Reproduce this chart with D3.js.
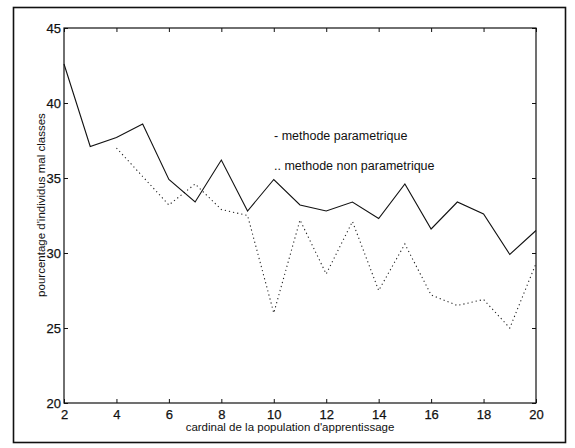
<!DOCTYPE html>
<html>
<head>
<meta charset="utf-8">
<script src="https://cdn.jsdelivr.net/npm/d3@7"></script>
<style>
  body { margin: 0; background: #fff; }
  svg text { font-family: "Liberation Sans", Arial, Helvetica, sans-serif; fill: #111; }
</style>
</head>
<body>
<svg id="chart"></svg>
<script>
'use strict';

// cardinal de la population d'apprentissage
var cardinals = [2, 3, 4, 5, 6, 7, 8, 9, 10, 11, 12, 13, 14, 15, 16, 17, 18, 19, 20];
// methode parametrique (solid)
var parametrique = [42.6, 37.1, 37.7, 38.6, 34.9, 33.4, 36.2, 32.8, 34.9, 33.2, 32.8, 33.4, 32.3, 34.6, 31.6, 33.4, 32.6, 29.9, 31.5];
// methode non parametrique (dotted), starts at 4
var nonParametrique = [null, null, 37.0, 35.1, 33.2, 34.6, 32.9, 32.5, 26.0, 32.2, 28.6, 32.1, 27.5, 30.6, 27.2, 26.5, 26.9, 25.0, 29.3];

var xTicks = [2, 4, 6, 8, 10, 12, 14, 16, 18, 20];
var yTicks = [20, 25, 30, 35, 40, 45];

var W = 575, H = 448;
var margin = {top: 28, right: 39, bottom: 45, left: 64};
var width = W - margin.left - margin.right;
var height = H - margin.top - margin.bottom;

var svg = d3.select("#chart")
        .attr("width", W)
        .attr("height", H);

// outer frame
svg.append("rect")
        .attr("x", 13.5).attr("y", 7.5)
        .attr("width", 552).attr("height", 435)
        .attr("fill", "none")
        .attr("stroke", "#111")
        .attr("stroke-width", 1.6);

var x = d3.scaleLinear().domain([2, 20]).range([0, width]);
var y = d3.scaleLinear().domain([20, 45]).range([height, 0]);

var g = svg.append("g")
        .attr("transform", "translate(" + margin.left + "," + margin.top + ")");

// axes, ticks pointing inside like matlab
var tickLen = 4;
g.append("g")
        .attr("transform", "translate(0," + height + ")")
        .call(d3.axisBottom(x).tickValues(xTicks).tickSizeInner(-tickLen).tickSizeOuter(0).tickPadding(7));
g.append("g")
        .call(d3.axisLeft(y).tickValues(yTicks).tickSizeInner(-tickLen).tickSizeOuter(0).tickPadding(3));
g.append("g")
        .call(d3.axisTop(x).tickValues(xTicks).tickSizeInner(-tickLen).tickSizeOuter(0).tickFormat(""));
g.append("g")
        .attr("transform", "translate(" + width + ",0)")
        .call(d3.axisRight(y).tickValues(yTicks).tickSizeInner(-tickLen).tickSizeOuter(0).tickFormat(""));

g.selectAll(".domain").remove();
g.selectAll(".tick line").attr("stroke", "#111");
g.selectAll(".tick text")
        .style("font-size", "13px")
        .attr("fill", "#111")
        .attr("stroke", "#111")
        .attr("stroke-width", 0.25);

// plot box
g.append("rect")
        .attr("width", width).attr("height", height)
        .attr("fill", "none")
        .attr("stroke", "#111")
        .attr("stroke-width", 1.2);

var lineParam = d3.line()
        .x(function(d, i) { return x(cardinals[i]); })
        .y(function(d) { return y(d); });

var lineNonParam = d3.line()
        .defined(function(d) { return d !== null; })
        .x(function(d, i) { return x(cardinals[i]); })
        .y(function(d) { return y(d); });

g.append("path")
        .datum(nonParametrique)
        .attr("fill", "none")
        .attr("stroke", "#222")
        .attr("stroke-width", 1.1)
        .attr("stroke-dasharray", "1.2,3")
        .attr("d", lineNonParam);

g.append("path")
        .datum(parametrique)
        .attr("fill", "none")
        .attr("stroke", "#111")
        .attr("stroke-width", 1.1)
        .attr("d", lineParam);

// legend text
svg.append("text")
        .attr("x", 274).attr("y", 139.5)
        .style("font-size", "12.5px")
        .text("- methode parametrique");
svg.append("text")
        .attr("x", 274).attr("y", 169.5)
        .style("font-size", "12.5px")
        .text(".. methode non parametrique");

// axis labels
svg.append("text")
        .attr("x", 290).attr("y", 431)
        .attr("text-anchor", "middle")
        .style("font-size", "11.5px")
        .text("cardinal de la population d'apprentissage");

svg.append("text")
        .attr("transform", "translate(45,205) rotate(-90)")
        .attr("text-anchor", "middle")
        .style("font-size", "11.5px")
        .text("pourcentage d'individus mal classes");
</script>
</body>
</html>
